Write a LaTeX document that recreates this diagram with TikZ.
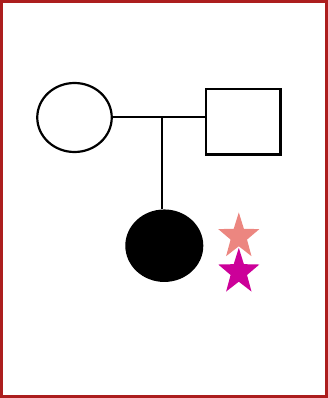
\documentclass[tikz,border=0pt]{standalone}
\usepackage{tikz}
\usetikzlibrary{shapes.geometric}
\usepackage{xcolor}
\definecolor{framered}{RGB}{172,30,30}
\definecolor{starsalmon}{RGB}{236,134,128}
\definecolor{starmagenta}{RGB}{204,0,153}

\begin{document}
\begin{tikzpicture}[
    x=1pt,y=-1pt,
    female/.style={ellipse,draw=black,line width=2.2pt,minimum width=74.5pt,minimum height=69pt,inner sep=0pt},
    male/.style={rectangle,draw=black,line width=2.2pt,minimum width=74.5pt,minimum height=65.5pt,inner sep=0pt},
    affected/.style={ellipse,fill=black,minimum width=78pt,minimum height=72.5pt,inner sep=0pt},
    starmark/.style={star,star points=5,star point ratio=2.5,minimum size=43.2pt,inner sep=0pt,draw=none,transform shape},
    link/.style={line width=2.2pt}
  ]
    \useasboundingbox (0,0) rectangle (328,398);
    \draw[framered,line width=2.8pt] (1.4,1.4) rectangle (326.6,396.6);
    \node[female] (mother) at (74.5,117.5) {};
    \node[male] (father) at (243.3,121.7) {};
    \node[affected] (child) at (164.3,245.7) {};
    % stars are a bit taller than wide
    \begin{scope}[shift={(238.8,236.6)},yscale=1.12]
      \node[starmark,fill=starsalmon] (staru) at (0,0) {};
    \end{scope}
    \begin{scope}[shift={(238.8,272)},yscale=1.12]
      \node[starmark,fill=starmagenta] (stard) at (0,0) {};
    \end{scope}
    \coordinate (mid) at (162,117.3);
    \draw[link] (mother.east |- mid) -- (father.west |- mid);
    \draw[link] (mid) -- (mid |- child.north);
  \end{tikzpicture}
\end{document}
